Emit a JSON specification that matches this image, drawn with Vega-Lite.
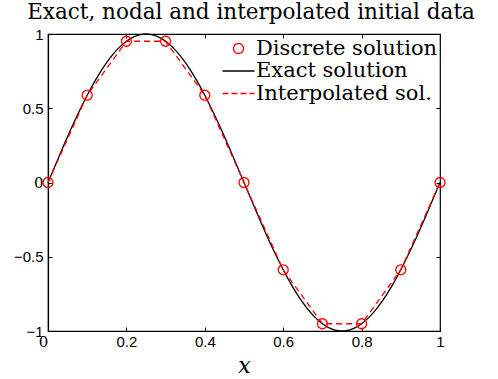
{
  "$schema": "https://vega.github.io/schema/vega-lite/v6.json",
  "width": 392,
  "height": 297,
  "autosize": {"type": "none"},
  "padding": {"left": 48, "top": 34, "right": 58, "bottom": 48},
  "background": "white",
  "title": {"text": "Exact, nodal and interpolated initial data", "font": "DejaVu Serif", "fontSize": 21.5, "fontWeight": "normal", "color": "black", "offset": 4, "dx": 7},
  "config": {
    "view": {"stroke": "black", "strokeWidth": 1.2},
    "axis": {"grid": false, "domainColor": "black", "tickColor": "black", "labelColor": "black", "labelFont": "Liberation Sans", "labelFontSize": 15, "tickSize": -4, "domainWidth": 1.2, "tickWidth": 1}
  },
  "datasets": {
    "exact": [
      {"series": "Exact solution", "x": 0, "y": 0},
      {"series": "Exact solution", "x": 0.02, "y": 0.1253},
      {"series": "Exact solution", "x": 0.04, "y": 0.2487},
      {"series": "Exact solution", "x": 0.06, "y": 0.3681},
      {"series": "Exact solution", "x": 0.08, "y": 0.4818},
      {"series": "Exact solution", "x": 0.1, "y": 0.5878},
      {"series": "Exact solution", "x": 0.12, "y": 0.6845},
      {"series": "Exact solution", "x": 0.14, "y": 0.7705},
      {"series": "Exact solution", "x": 0.16, "y": 0.8443},
      {"series": "Exact solution", "x": 0.18, "y": 0.9048},
      {"series": "Exact solution", "x": 0.2, "y": 0.9511},
      {"series": "Exact solution", "x": 0.22, "y": 0.9823},
      {"series": "Exact solution", "x": 0.24, "y": 0.998},
      {"series": "Exact solution", "x": 0.25, "y": 1},
      {"series": "Exact solution", "x": 0.26, "y": 0.998},
      {"series": "Exact solution", "x": 0.28, "y": 0.9823},
      {"series": "Exact solution", "x": 0.3, "y": 0.9511},
      {"series": "Exact solution", "x": 0.32, "y": 0.9048},
      {"series": "Exact solution", "x": 0.34, "y": 0.8443},
      {"series": "Exact solution", "x": 0.36, "y": 0.7705},
      {"series": "Exact solution", "x": 0.38, "y": 0.6845},
      {"series": "Exact solution", "x": 0.4, "y": 0.5878},
      {"series": "Exact solution", "x": 0.42, "y": 0.4818},
      {"series": "Exact solution", "x": 0.44, "y": 0.3681},
      {"series": "Exact solution", "x": 0.46, "y": 0.2487},
      {"series": "Exact solution", "x": 0.48, "y": 0.1253},
      {"series": "Exact solution", "x": 0.5, "y": 0},
      {"series": "Exact solution", "x": 0.52, "y": -0.1253},
      {"series": "Exact solution", "x": 0.54, "y": -0.2487},
      {"series": "Exact solution", "x": 0.56, "y": -0.3681},
      {"series": "Exact solution", "x": 0.58, "y": -0.4818},
      {"series": "Exact solution", "x": 0.6, "y": -0.5878},
      {"series": "Exact solution", "x": 0.62, "y": -0.6845},
      {"series": "Exact solution", "x": 0.64, "y": -0.7705},
      {"series": "Exact solution", "x": 0.66, "y": -0.8443},
      {"series": "Exact solution", "x": 0.68, "y": -0.9048},
      {"series": "Exact solution", "x": 0.7, "y": -0.9511},
      {"series": "Exact solution", "x": 0.72, "y": -0.9823},
      {"series": "Exact solution", "x": 0.74, "y": -0.998},
      {"series": "Exact solution", "x": 0.75, "y": -1},
      {"series": "Exact solution", "x": 0.76, "y": -0.998},
      {"series": "Exact solution", "x": 0.78, "y": -0.9823},
      {"series": "Exact solution", "x": 0.8, "y": -0.9511},
      {"series": "Exact solution", "x": 0.82, "y": -0.9048},
      {"series": "Exact solution", "x": 0.84, "y": -0.8443},
      {"series": "Exact solution", "x": 0.86, "y": -0.7705},
      {"series": "Exact solution", "x": 0.88, "y": -0.6845},
      {"series": "Exact solution", "x": 0.9, "y": -0.5878},
      {"series": "Exact solution", "x": 0.92, "y": -0.4818},
      {"series": "Exact solution", "x": 0.94, "y": -0.3681},
      {"series": "Exact solution", "x": 0.96, "y": -0.2487},
      {"series": "Exact solution", "x": 0.98, "y": -0.1253},
      {"series": "Exact solution", "x": 1, "y": 0}
    ],
    "nodes": [
      {"series": "Discrete solution", "x": 0, "y": 0},
      {"series": "Discrete solution", "x": 0.1, "y": 0.5878},
      {"series": "Discrete solution", "x": 0.2, "y": 0.9511},
      {"series": "Discrete solution", "x": 0.3, "y": 0.9511},
      {"series": "Discrete solution", "x": 0.4, "y": 0.5878},
      {"series": "Discrete solution", "x": 0.5, "y": 0},
      {"series": "Discrete solution", "x": 0.6, "y": -0.5878},
      {"series": "Discrete solution", "x": 0.7, "y": -0.9511},
      {"series": "Discrete solution", "x": 0.8, "y": -0.9511},
      {"series": "Discrete solution", "x": 0.9, "y": -0.5878},
      {"series": "Discrete solution", "x": 1, "y": 0}
    ]
  },
  "layer": [
    {
      "data": {"name": "exact"},
      "mark": {"type": "line", "strokeWidth": 1.3, "interpolate": "monotone"},
      "encoding": {
        "x": {"field": "x", "type": "quantitative", "scale": {"domain": [0, 1], "nice": false, "zero": false},
          "axis": {"orient": "bottom", "values": [0, 0.2, 0.4, 0.6, 0.8, 1], "format": "~g", "labelPadding": 7, "labelFlush": false, "title": "x", "titleFont": "DejaVu Serif", "titleFontStyle": "italic", "titleFontWeight": "normal", "titleFontSize": 22, "titleColor": "black", "titlePadding": 6,
            "labelOffset": {"condition": {"test": "datum.value === 0", "value": -5}, "value": 0},
            "labelFont": {"condition": {"test": "datum.value === 0", "value": "DejaVu Serif"}, "value": "Liberation Sans"}}},
        "y": {"field": "y", "type": "quantitative", "scale": {"domain": [-1, 1], "nice": false, "zero": false},
          "axis": {"orient": "left", "values": [-1, -0.5, 0, 0.5, 1], "format": "~g", "labelPadding": 9, "labelFlush": false, "title": null,
            "labelFont": {"condition": {"test": "datum.value === 0", "value": "DejaVu Serif"}, "value": "Liberation Sans"}}},
        "color": {"field": "series", "type": "nominal",
          "scale": {"domain": ["Discrete solution", "Exact solution", "Interpolated sol."], "range": ["#ff0000", "#000000", "#ff0000"]},
          "legend": {"orient": "none", "legendX": 180, "legendY": 4, "title": null, "padding": 0, "rowPadding": 0.5,
            "labelFont": "DejaVu Serif", "labelFontSize": 21, "labelColor": "black", "labelLimit": 400, "symbolSize": 100, "labelOffset": 7, "symbolStrokeWidth": 1.3,
            "encode": {"symbols": {"update": {
              "shape": {"signal": "datum.value === 'Discrete solution' ? 'circle' : 'M-3.2,0H3.2'"},
              "fill": {"value": "transparent"},
              "strokeDash": {"signal": "datum.value === 'Interpolated sol.' ? [6, 3] : [1, 0]"}
            }}}}}
      }
    },
    {
      "data": {"name": "nodes"},
      "mark": {"type": "line", "strokeWidth": 1.3, "strokeDash": [6, 4]},
      "encoding": {
        "x": {"field": "x", "type": "quantitative", "axis": {"orient": "top", "values": [0, 0.2, 0.4, 0.6, 0.8, 1], "labels": false, "domain": false, "title": null}},
        "y": {"field": "y", "type": "quantitative", "axis": {"orient": "right", "values": [-1, -0.5, 0, 0.5, 1], "labels": false, "domain": false, "title": null}},
        "color": {"datum": "Interpolated sol."}
      }
    },
    {
      "data": {"name": "nodes"},
      "mark": {"type": "point", "filled": false, "size": 100, "strokeWidth": 1.3, "opacity": 1},
      "encoding": {
        "x": {"field": "x", "type": "quantitative", "axis": null},
        "y": {"field": "y", "type": "quantitative", "axis": null},
        "color": {"field": "series", "type": "nominal"}
      }
    }
  ],
  "resolve": {"axis": {"x": "independent", "y": "independent"}}
}
